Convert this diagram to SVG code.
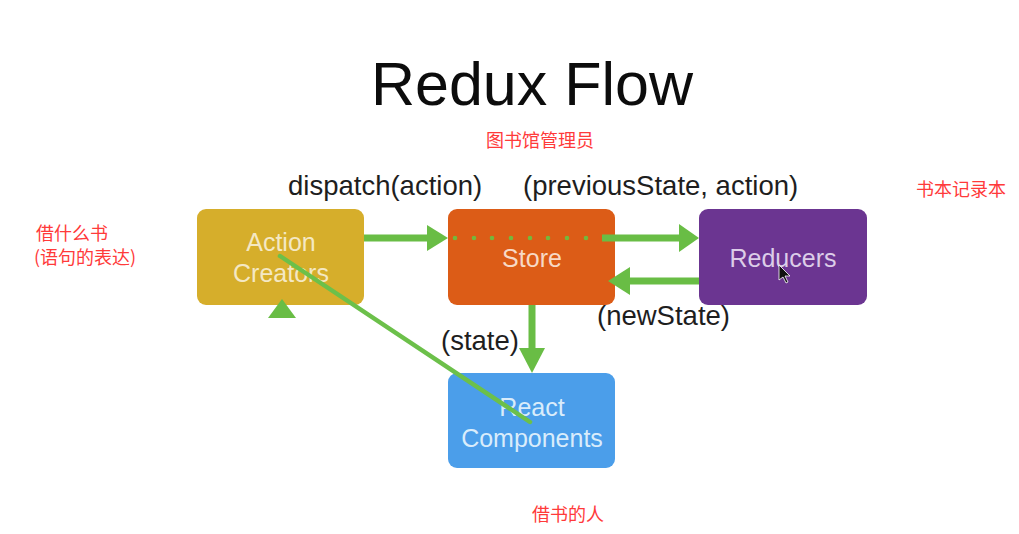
<svg xmlns="http://www.w3.org/2000/svg" width="1019" height="534" viewBox="0 0 1019 534">
<style>
.lbl{font-family:"Liberation Sans",Arial,sans-serif;font-size:27.5px;fill:#1e1e1e}
.node{font-family:"Liberation Sans",Arial,sans-serif;font-size:25px;text-anchor:middle}
.zh{font-family:"Noto Sans CJK SC","Liberation Sans",sans-serif;font-size:18px;fill:#ff3a3a}
.ln{stroke:#69bd45;stroke-width:7;fill:none}
.hd{fill:#69bd45}
</style>
<rect width="1019" height="534" fill="#ffffff"/>
<text x="532" y="105" font-family="Liberation Sans,Arial,sans-serif" font-size="61" text-anchor="middle" fill="#0c0c0c">Redux Flow</text>

<g id="action-creators">
<rect x="197" y="209" width="167" height="96" rx="9" fill="#d6ae2b"/>
<text class="node" x="281" y="251" fill="#f4e8c4">Action</text>
<text class="node" x="281" y="282" fill="#f4e8c4">Creators</text>
</g>
<g id="store">
<rect x="448" y="209" width="167" height="96" rx="9" fill="#dc5c17"/>
<text class="node" x="532" y="267" fill="#f7d9c6">Store</text>
</g>
<g id="reducers">
<rect x="699" y="209" width="168" height="96" rx="9" fill="#6b3591"/>
<text class="node" x="783" y="267" fill="#dccde8">Reducers</text>
<polygon points="779,265 779,280 783,277 786,283 788,282 785,276 790,276" fill="#111" stroke="#fff" stroke-width="0.8"/>
</g>
<g id="react-components">
<rect x="448" y="373" width="167" height="95" rx="9" fill="#4b9eea"/>
<text class="node" x="532" y="416" fill="#d9ecfb">React</text>
<text class="node" x="532" y="447" fill="#d9ecfb">Components</text>
</g>

<g id="connectors">
<line class="ln" x1="364" y1="238" x2="428" y2="238"/>
<polygon class="hd" points="448,238 427,225 427,251"/>
<g fill="#74b83c">
<circle cx="455" cy="238" r="2.3"/><circle cx="474" cy="238" r="2.3"/><circle cx="492" cy="238" r="2.3"/><circle cx="511" cy="238" r="2.3"/>
<circle cx="530" cy="238" r="2.3"/><circle cx="548" cy="238" r="2.3"/><circle cx="567" cy="238" r="2.3"/><circle cx="586" cy="238" r="2.3"/>
</g>
<line class="ln" x1="602" y1="238" x2="681" y2="238"/>
<polygon class="hd" points="699,238 679,224 679,252"/>
<line class="ln" x1="699" y1="281" x2="628" y2="281"/>
<polygon class="hd" points="608,281 630,267 630,295"/>
<line class="ln" x1="532" y1="305" x2="532" y2="350"/>
<polygon class="hd" points="532,373 519,348 545,348"/>
<polygon class="hd" points="282,299 268,318 296,318"/>
<line x1="280" y1="256" x2="530" y2="422" stroke="#6cc04a" stroke-width="4.5" stroke-linecap="round"/>
</g>

<text class="lbl" x="288" y="195">dispatch(action)</text>
<text class="lbl" x="523" y="195">(previousState, action)</text>
<text class="lbl" x="441" y="350">(state)</text>
<text class="lbl" x="597" y="325">(newState)</text>

<text class="zh" x="486" y="147">图书馆管理员</text>
<text class="zh" x="916" y="196">书本记录本</text>
<text class="zh" x="36" y="240">借什么书</text>
<text class="zh" x="34" y="264">(语句的表达)</text>
<text class="zh" x="532" y="521">借书的人</text>
</svg>
